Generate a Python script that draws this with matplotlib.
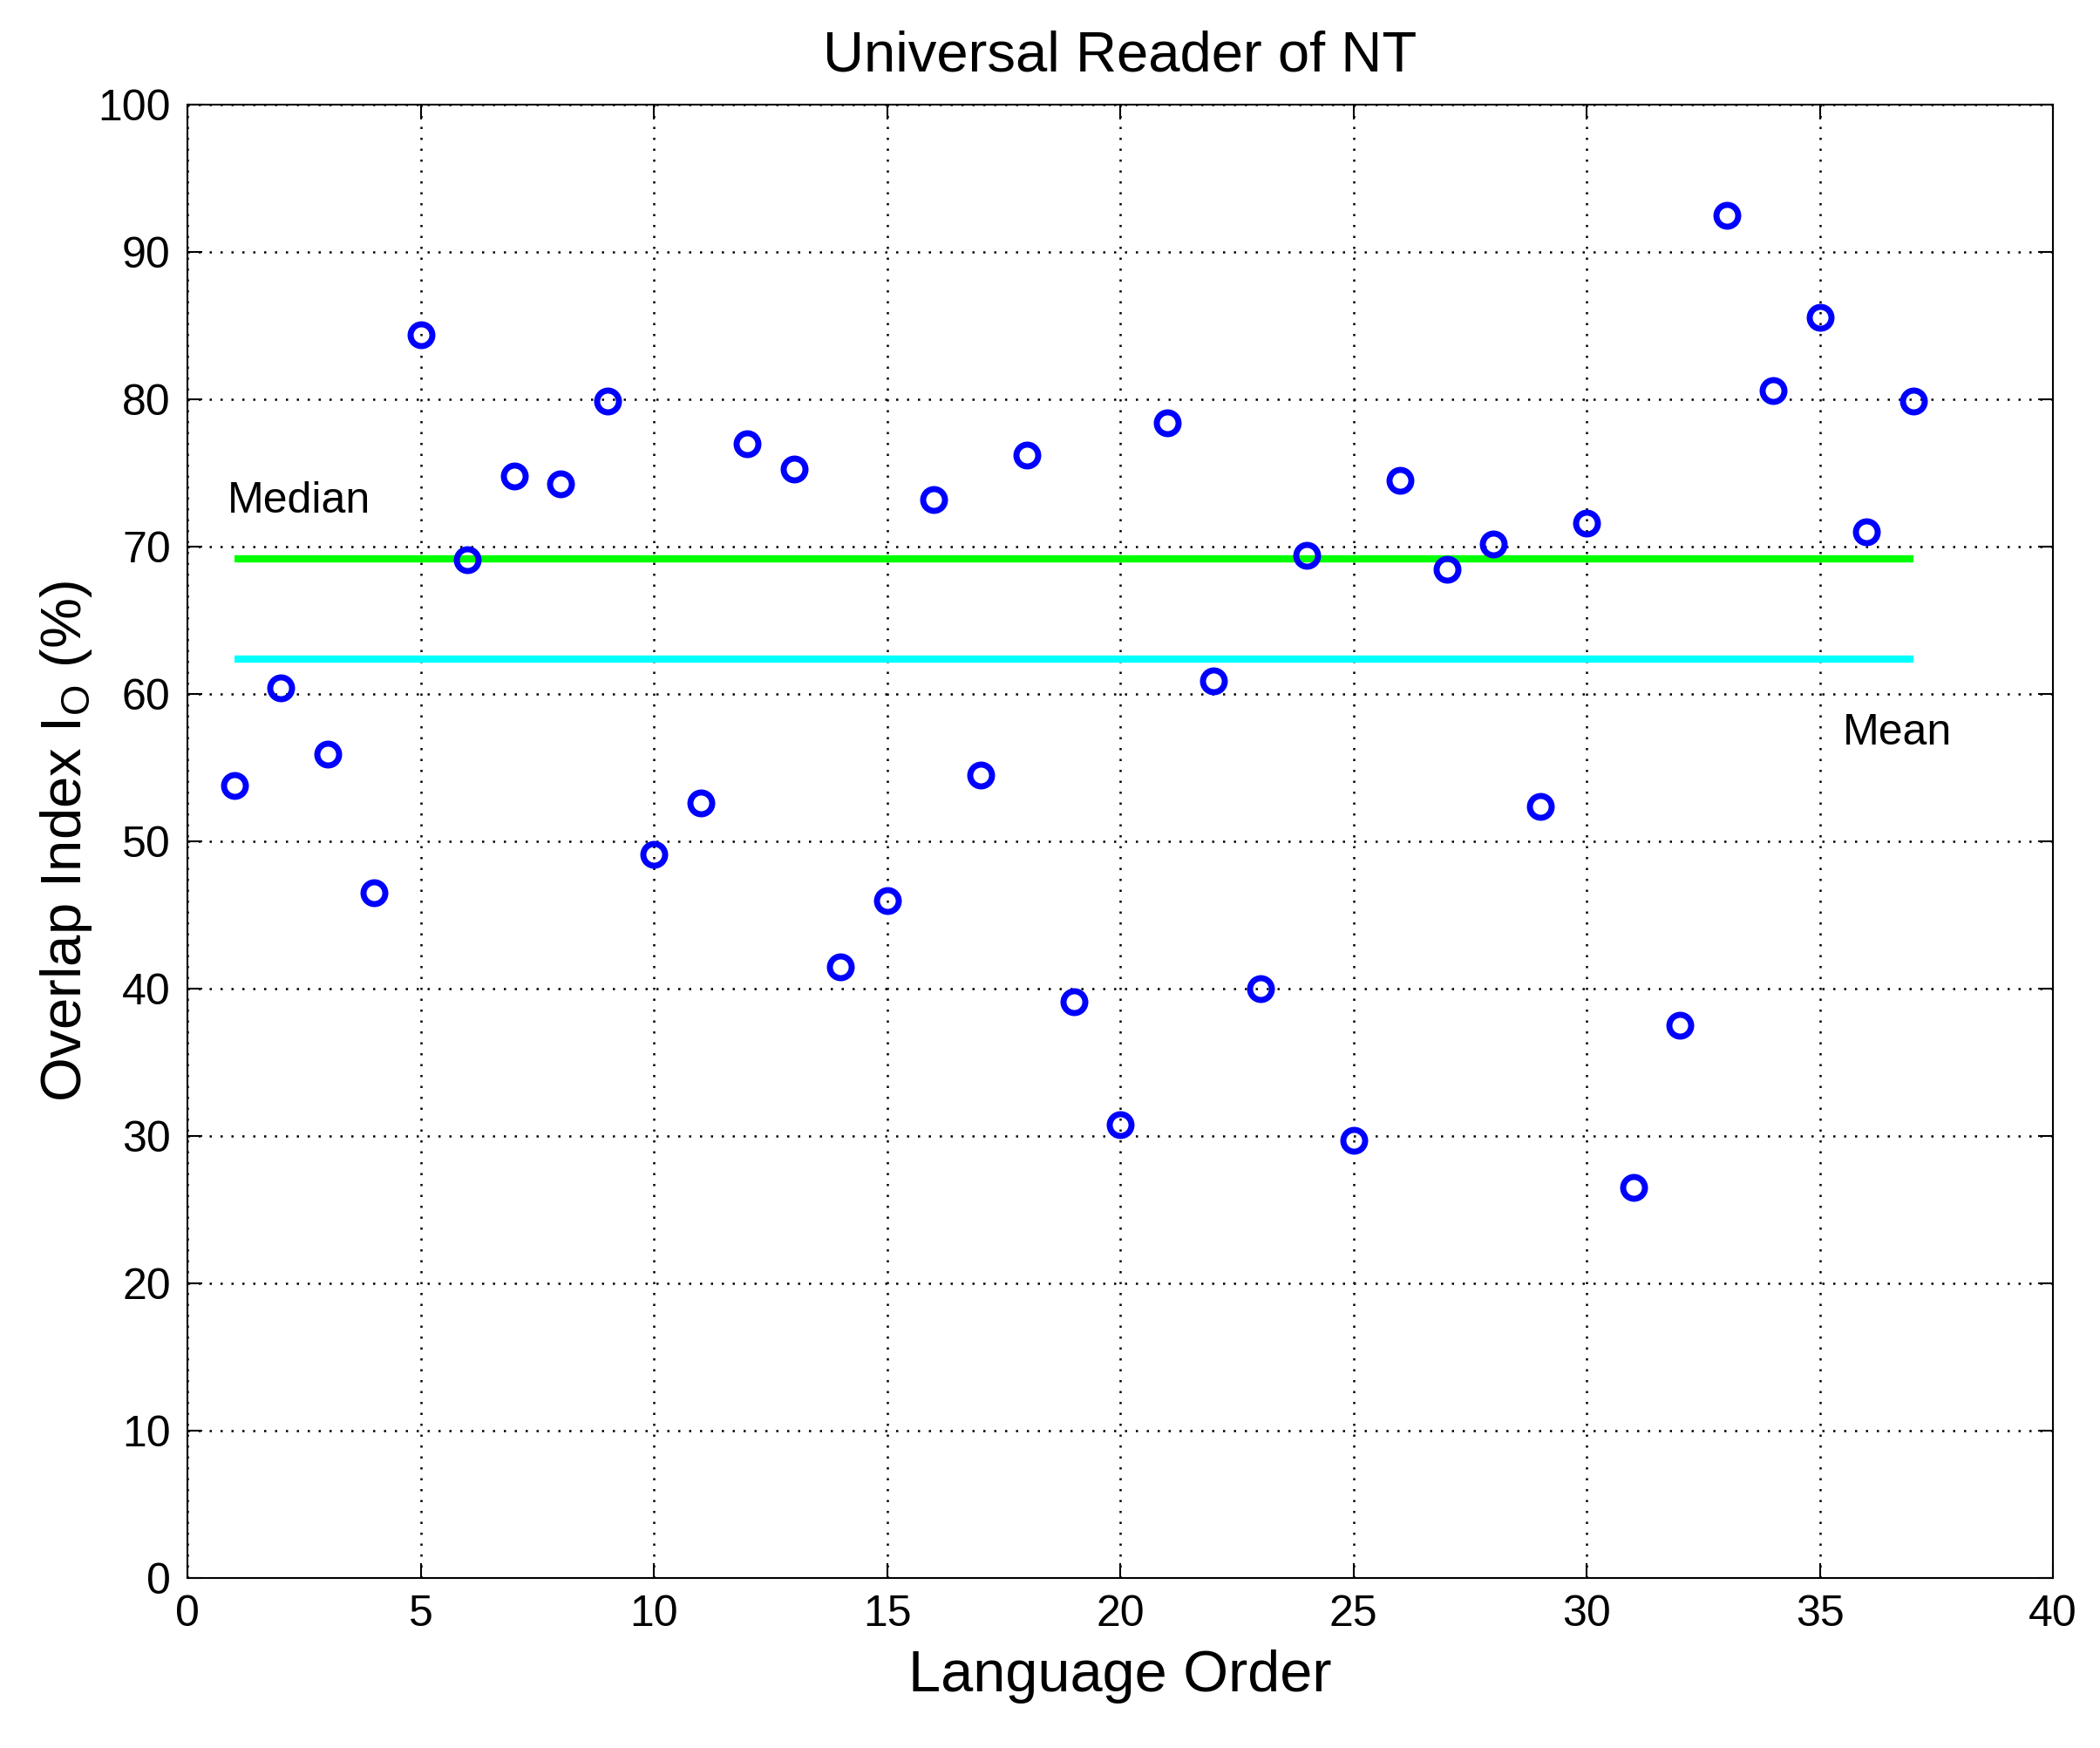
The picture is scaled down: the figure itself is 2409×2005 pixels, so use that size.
import matplotlib
matplotlib.use("Agg")
import matplotlib.pyplot as plt
import numpy as np

plt.rcParams['font.family'] = ['Liberation Sans', 'DejaVu Sans']
plt.rcParams['mathtext.fontset'] = 'custom'
plt.rcParams['mathtext.rm'] = 'Liberation Sans'
plt.rcParams['mathtext.it'] = 'Liberation Sans'

language_order = list(range(1, 38))
overlap_index = [53.8, 60.4, 55.9, 46.5, 84.4, 69.1, 74.8, 74.3, 79.9, 49.1,
                 52.6, 77.0, 75.3, 41.5, 46.0, 73.2, 54.5, 76.2, 39.1, 30.8,
                 78.4, 60.9, 40.0, 69.4, 29.7, 74.5, 68.5, 70.2, 52.4, 71.6,
                 26.5, 37.5, 92.5, 80.6, 85.6, 71.0, 79.9]
median_value = 69.2
mean_value = 62.4
line_x = [1, 37]
xticks = list(range(0, 41, 5))
yticks = list(range(0, 101, 10))

fig = plt.figure(figsize=(24.09, 20.05), dpi=100)
ax = fig.add_axes([0.0893, 0.0973, 0.8883, 0.8427])

ax.plot(line_x, [median_value, median_value], color=(0, 1, 0), lw=6, solid_capstyle='butt', zorder=2)
ax.plot(line_x, [mean_value, mean_value], color=(0, 1, 1), lw=6, solid_capstyle='butt', zorder=2)
ax.plot(language_order, overlap_index, linestyle='none', marker='o', ms=18,
        mfc='none', mec='blue', mew=5, zorder=3)

ax.set_xlim(0, 40)
ax.set_ylim(0, 100)
ax.set_xticks(xticks)
ax.set_yticks(yticks)
ax.grid(True, linestyle=(0, (1, 4)), color='black', lw=1.8)
ax.tick_params(direction='in', length=12, width=1.5, top=True, right=True,
               labelsize=36, pad=14)
for s in ax.spines.values():
    s.set_linewidth(1.5)

ax.text(0.85, 72.3, 'Median', fontsize=36, ha='left', va='baseline')
ax.text(35.5, 56.6, 'Mean', fontsize=36, ha='left', va='baseline')

ax.set_title('Universal Reader of NT', fontsize=47, pad=28)
ax.set_xlabel('Language Order', fontsize=48, labelpad=12)
ax.set_ylabel(r'Overlap Index I$_{\mathrm{O}}$ (%)', fontsize=47, labelpad=3)

fig.savefig('out.png', dpi=100)
